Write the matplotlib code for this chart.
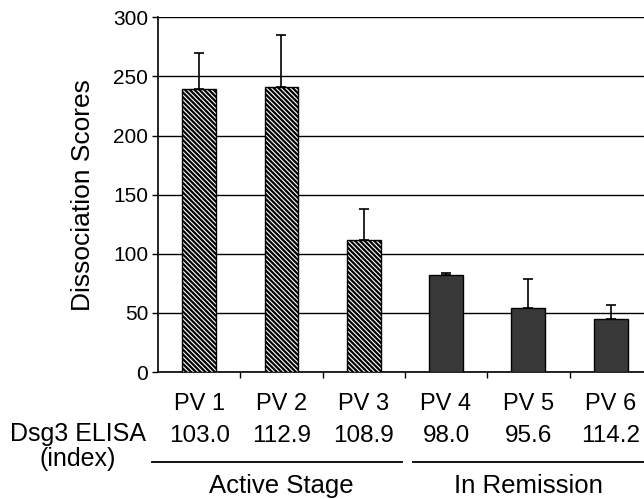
import matplotlib
matplotlib.use("Agg")
import matplotlib.pyplot as plt
from matplotlib.transforms import blended_transform_factory

# data
patients = ["PV 1", "PV 2", "PV 3", "PV 4", "PV 5", "PV 6"]
scores = [239, 241, 112, 82, 54, 45]
errors = [31, 44, 26, 2, 25, 12]
elisa = ["103.0", "112.9", "108.9", "98.0", "95.6", "114.2"]
active = [True, True, True, False, False, False]
groups = ["Active Stage", "In Remission"]

plt.rcParams["font.family"] = ["Liberation Sans", "DejaVu Sans"]
plt.rcParams["hatch.linewidth"] = 1.6

fig = plt.figure(figsize=(6.44, 4.99), dpi=100)
ax = fig.add_axes([0.2453, 0.2545, 0.7547, 0.7108])

x = list(range(len(patients)))
for i in x:
    if active[i]:
        ax.bar(i, scores[i], width=0.41, color="white", edgecolor="black",
               hatch="\\" * 7, linewidth=1.0, zorder=3)
    else:
        ax.bar(i, scores[i], width=0.41, color="#383838", edgecolor="black",
               linewidth=1.0, zorder=3)
ax.errorbar(x, scores, yerr=[[0] * len(x), errors], fmt="none", ecolor="black",
            elinewidth=1.2, capsize=3.5, capthick=1.2, zorder=2)

ax.set_ylim(0, 300)
ax.set_xlim(-0.5, 5.405)
ax.set_yticks(range(0, 301, 50))
ax.tick_params(axis="y", labelsize=15, length=4, width=1, pad=3)
ax.set_xticks([0.5, 1.5, 2.5, 3.5, 4.5])
ax.set_xticklabels([])
ax.tick_params(axis="x", length=4, width=1)
ax.yaxis.grid(True, color="black", linewidth=1.0)
ax.set_axisbelow(True)
for s in ["top", "right"]:
    ax.spines[s].set_visible(False)
ax.spines["left"].set_linewidth(1.2)
ax.spines["bottom"].set_linewidth(1.2)
ax.set_ylabel("Dissociation Scores", fontsize=19, labelpad=13)

# labels under the axis
tr = blended_transform_factory(ax.transData, fig.transFigure)
for i in x:
    ax.text(i, 0.190, patients[i], transform=tr, ha="center", va="center",
            fontsize=17, clip_on=False)
    ax.text(i, 0.126, elisa[i], transform=tr, ha="center", va="center",
            fontsize=17.5, clip_on=False)
fig.text(0.121, 0.130, "Dsg3 ELISA", ha="center", va="center", fontsize=18)
fig.text(0.120, 0.080, "(index)", ha="center", va="center", fontsize=18)

ax.plot([-0.573, 2.465], [0.074, 0.074], transform=tr, color="black",
        linewidth=1.3, clip_on=False)
ax.plot([2.6, 5.5], [0.074, 0.074], transform=tr, color="black",
        linewidth=1.3, clip_on=False)
ax.text(1, 0.026, groups[0], transform=tr, ha="center", va="center",
        fontsize=18.5, clip_on=False)
ax.text(4, 0.026, groups[1], transform=tr, ha="center", va="center",
        fontsize=18.5, clip_on=False)

fig.savefig("out.png", dpi=100)
